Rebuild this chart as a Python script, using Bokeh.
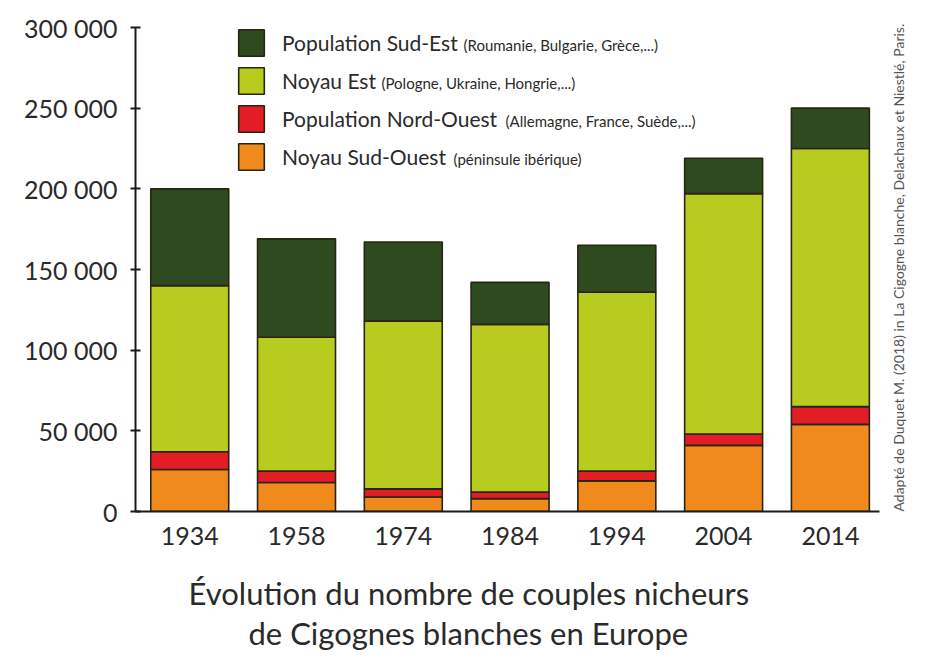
import math
from bokeh.plotting import figure
from bokeh.models import (Range1d, FixedTicker, Legend, LegendItem, Label, Title,
                          ColumnDataSource, LinearAxis)
from bokeh.embed import file_html
from bokeh.resources import INLINE

years = ["1934", "1958", "1974", "1984", "1994", "2004", "2014"]
sud_ouest = [26000, 18000, 9000, 8000, 19000, 41000, 54000]
nord_ouest = [11000, 7000, 5000, 4000, 6000, 7000, 11000]
noyau_est = [103000, 83000, 104000, 104000, 111000, 149000, 160000]
sud_est = [60000, 61000, 49000, 26000, 29000, 22000, 25000]

series = ["sud_ouest", "nord_ouest", "noyau_est", "sud_est"]
colors = ["#f08a1c", "#e31d25", "#b8cc1f", "#2e4b1f"]
main_labels = ["Noyau Sud-Ouest", "Population Nord-Ouest", "Noyau Est", "Population Sud-Est"]
sub_labels = ["(péninsule ibérique)", "(Allemagne, France, Suède,...)",
              "(Pologne, Ukraine, Hongrie,...)", "(Roumanie, Bulgarie, Grèce,...)"]
y_ticks = [0, 50000, 100000, 150000, 200000, 250000, 300000]
title_lines = ["Évolution du nombre de couples nicheurs", "de Cigognes blanches en Europe"]
source_text = "Adapté de Duquet M. (2018) in La Cigogne blanche, Delachaux et Niestlé, Paris."

FONT = "Lato"
TXT = "#2a2a2a"

xs = list(range(len(years)))
src = ColumnDataSource(dict(x=xs, sud_ouest=sud_ouest, nord_ouest=nord_ouest,
                            noyau_est=noyau_est, sud_est=sud_est))

p = figure(width=918, height=651, output_backend="svg", toolbar_location=None,
           x_range=Range1d(-0.508, 6.46), y_range=Range1d(0, 300000),
           min_border_left=135, min_border_right=38, min_border_top=27,
           min_border_bottom=0)
p.outline_line_color = None
p.grid.visible = False
p.background_fill_color = "white"

rends = p.vbar_stack(series, x="x", width=0.73, source=src, color=colors,
                     line_color="#2a2412", line_width=1.6)

# axes
p.xaxis.ticker = FixedTicker(ticks=xs)
p.xaxis.major_label_overrides = {i: y for i, y in zip(xs, years)}
p.xaxis.major_tick_in = 0
p.xaxis.major_tick_out = 0
p.xaxis.minor_tick_line_color = None
p.xaxis.major_label_standoff = 15
# blank axis label used only as spacing between the years and the caption
p.xaxis.axis_label = "\u00a0"
p.xaxis.axis_label_standoff = 10
p.xaxis.axis_label_text_font_size = "10px"
p.yaxis.ticker = FixedTicker(ticks=y_ticks)
p.yaxis.major_label_overrides = {v: f"{v:,}".replace(",", " ") for v in y_ticks}
p.yaxis.major_tick_in = 5
p.yaxis.major_tick_out = 5
p.yaxis.minor_tick_line_color = None
p.yaxis.major_label_standoff = 13
for ax in (p.xaxis, p.yaxis):
    ax.axis_line_color = "#1a1a1a"
    ax.axis_line_width = 2
    ax.major_tick_line_color = "#1a1a1a"
    ax.major_tick_line_width = 2
    ax.major_label_text_font = FONT
    ax.major_label_text_font_size = "25px"
    ax.major_label_text_color = TXT

# right-hand source note, read bottom to top
src_axis = LinearAxis(ticker=FixedTicker(ticks=[]), axis_line_color=None,
                      major_tick_line_color=None, minor_tick_line_color=None,
                      axis_label=source_text, axis_label_orientation=math.pi / 2,
                      axis_label_align="start",
                      axis_label_standoff=19, axis_label_text_font=FONT,
                      axis_label_text_font_size="14px", axis_label_text_font_style="normal",
                      axis_label_text_color="#555555")
p.add_layout(src_axis, "right")

# legend (top row = Sud-Est)
items = [LegendItem(label=main_labels[i], renderers=[rends[i]]) for i in range(3, -1, -1)]
legend = Legend(items=items, location=(100, 338), orientation="vertical",
                glyph_width=32, glyph_height=33, spacing=5, padding=0, margin=0,
                label_standoff=15, label_text_font=FONT, label_text_font_size="21px",
                label_text_color=TXT, border_line_alpha=0, background_fill_alpha=0,
                label_height=33)
p.add_layout(legend, "center")

sub_x = [318, 370, 246, 328]
sub_y = [353, 391, 429, 467]
for i in range(4):
    p.add_layout(Label(x=sub_x[i], y=sub_y[i], x_units="screen", y_units="screen",
                       text=sub_labels[i], text_font=FONT, text_font_size="15px",
                       text_color=TXT, text_baseline="middle", text_align="left"))

offsets = [53, 113]
for line, off in zip(title_lines, offsets):
    p.add_layout(Title(text=line, align="left", text_font=FONT, text_font_size="31px",
                       text_font_style="normal", text_color=TXT, offset=off,
                       standoff=0), "below")

open("out.html", "w").write(file_html(p, INLINE))
